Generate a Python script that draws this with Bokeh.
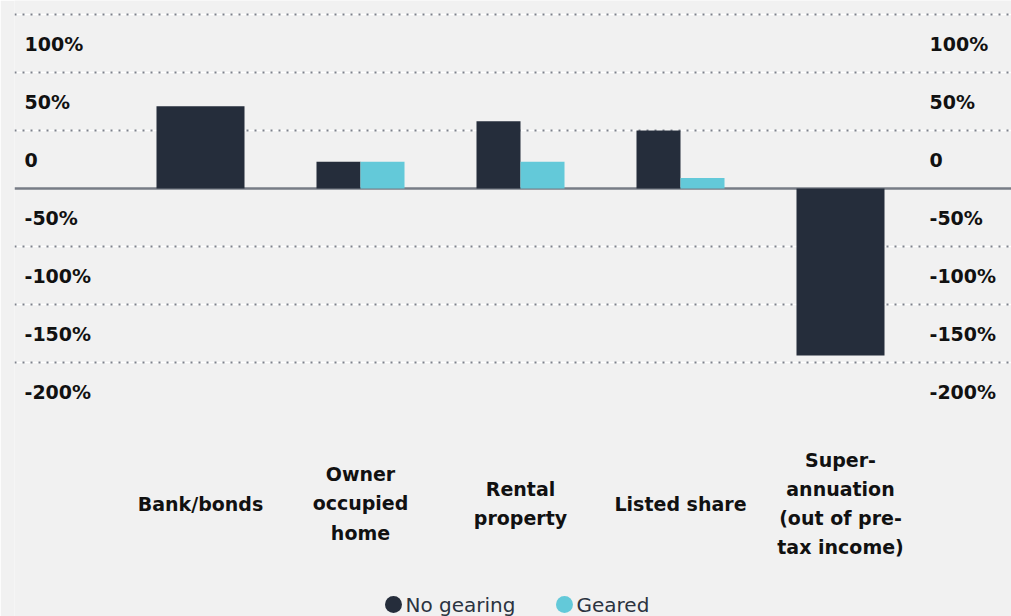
from bokeh.plotting import figure
from bokeh.models import Range1d, ColumnDataSource, FixedTicker, Grid, Span
from bokeh.core.properties import value
from bokeh.embed import file_html
from bokeh.resources import INLINE

# ---- data ----
categories = ["Bank/bonds", "Owner\noccupied\nhome", "Rental\nproperty", "Listed share",
              "Super-\nannuation\n(out of pre-\ntax income)"]
no_gearing = [71, 23, 58, 50, -144]
geared = [None, 23, 23, 9, None]
grid_ticks = [150, 100, 50, -50, -100, -150]
label_ticks = [100, 50, 0, -50, -100, -150, -200]
tick_labels = ["100%", "50%", "0", "-50%", "-100%", "-150%", "-200%"]
series_names = ["No gearing", "Geared"]

# ---- style ----
BG = "#f1f1f1"
DARK = "#252d3b"
TEAL = "#63c9d9"
GRID = "#7e828c"
FONT = "DejaVu Sans"

W, H = 1011, 616
LEFT = 14                 # frame left border in px
PX_PER_UNIT = 58 / 50.0   # px per percentage point
UNIT_X = 160.0            # px per category
ZERO_PX = 188             # px of zero line from top
FIRST_CENTER_PX = 200     # px of first category centre from left

x_start = (LEFT - FIRST_CENTER_PX) / UNIT_X
x_end = x_start + (W - LEFT) / UNIT_X
y_top = ZERO_PX / PX_PER_UNIT
y_bot = y_top - H / PX_PER_UNIT


def px_x(px):
    return x_start + (px - LEFT) / UNIT_X


def px_y(px):
    return (ZERO_PX - px) / PX_PER_UNIT


p = figure(width=W, height=H, output_backend="svg", toolbar_location=None,
           x_range=Range1d(x_start, x_end), y_range=Range1d(y_bot, y_top),
           x_axis_location=None, y_axis_location=None,
           min_border=0, min_border_left=LEFT, min_border_right=0,
           min_border_top=0, min_border_bottom=0)
p.background_fill_color = BG
p.border_fill_color = BG
p.outline_line_color = None
p.xgrid.visible = False
p.ygrid.visible = False

# grid: white base line + gray dots
g1 = Grid(dimension=1, ticker=FixedTicker(ticks=grid_ticks), grid_line_color="#ffffff",
          grid_line_width=1.5)
g2 = Grid(dimension=1, ticker=FixedTicker(ticks=grid_ticks), grid_line_color=GRID,
          grid_line_width=2, grid_line_dash="2 6")
p.add_layout(g1)
p.add_layout(g2)

zero = Span(location=0, dimension="width", line_color="#777c86", line_width=2.5, level="underlay")
p.add_layout(zero)

# ---- bars ----
group_w = 0.55
xs_n, tops_n, ws_n = [], [], []
xs_g, tops_g, ws_g = [], [], []
for i, (n, g) in enumerate(zip(no_gearing, geared)):
    if g is None:
        xs_n.append(i); tops_n.append(n); ws_n.append(group_w)
    else:
        xs_n.append(i - group_w / 4); tops_n.append(n); ws_n.append(group_w / 2)
        xs_g.append(i + group_w / 4); tops_g.append(g); ws_g.append(group_w / 2)

src_n = ColumnDataSource(dict(x=xs_n, top=tops_n, w=ws_n))
src_g = ColumnDataSource(dict(x=xs_g, top=tops_g, w=ws_g))
p.vbar(x="x", top="top", width="w", bottom=0, source=src_n, fill_color=DARK, line_color=None)
p.vbar(x="x", top="top", width="w", bottom=0, source=src_g, fill_color=TEAL, line_color=None)

# ---- y labels (left and right), placed half a step above each value ----
half_step = 25
lab_src = ColumnDataSource(dict(x=[x_start] * len(label_ticks),
                                y=[t + half_step for t in label_ticks], t=tick_labels))
for xo in (10, 915):
    p.text(x="x", y="y", text="t", source=lab_src, x_offset=xo,
           text_font=value(FONT), text_font_size="19px", text_font_style="bold",
           text_color="#111111", text_align="left", text_baseline="middle")

# ---- category labels ----
cat_y = px_y(503)
cat_src = ColumnDataSource(dict(x=list(range(len(categories))),
                                y=[cat_y] * len(categories), t=categories))
p.text(x="x", y="y", text="t", source=cat_src, text_font=value(FONT),
       text_font_size="19px", text_font_style="bold", text_color="#111111",
       text_align="center", text_baseline="middle", text_line_height=1.33)

# ---- legend (circle + label, bottom centre) ----
leg_y = px_y(604)
leg_src = ColumnDataSource(dict(cx=[px_x(393), px_x(564)], tx=[px_x(405), px_x(576)],
                                y=[leg_y, leg_y], c=[DARK, TEAL], t=series_names))
p.scatter(x="cx", y="y", source=leg_src, marker="circle", size=17,
          fill_color="c", line_color=None)
p.text(x="tx", y="y", text="t", source=leg_src, text_font=value(FONT),
       text_font_size="20px", text_color="#2b3340", text_align="left",
       text_baseline="middle")

open("out.html", "w").write(file_html(p, INLINE))
